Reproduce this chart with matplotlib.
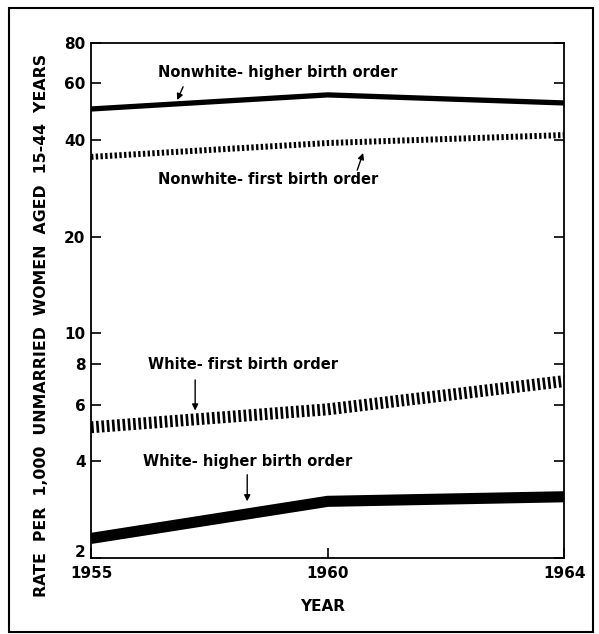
import numpy as np
import matplotlib.pyplot as plt
from matplotlib.patches import Rectangle
from matplotlib.ticker import NullLocator
from matplotlib.transforms import ScaledTranslation

# Data (rates per 1,000 unmarried women aged 15-44)
years = ['1955', '1960', '1964']
nonwhite_higher = [49.9, 55.2, 52.1]
nonwhite_first = [35.4, 39.1, 41.4]
white_first = [5.1, 5.8, 7.1]
white_higher = [2.3, 3.0, 3.1]
y_ticks = [2, 4, 6, 8, 10, 20, 40, 60, 80]

plt.rcParams['lines.scale_dashes'] = False
plt.rcParams['font.family'] = 'DejaVu Sans'

fig = plt.figure(figsize=(5.99, 6.34), dpi=100)
ax = fig.add_axes([0.152, 0.12, 0.79, 0.812])
x = np.arange(len(years))

# Lines
ax.plot(x, nonwhite_higher, color='black', lw=3.8, solid_joinstyle='round',
        solid_capstyle='butt')
ax.plot(x, nonwhite_first, color='black', lw=4.3, dashes=(1.7, 1.7),
        dash_capstyle='butt')
ax.plot(x, white_first, color='black', lw=8.6, dashes=(1.9, 1.9),
        dash_capstyle='butt')
ax.plot(x, white_higher, color='black', lw=8, solid_capstyle='butt')

# Axes, log scale
ax.set_yscale('log')
ax.set_ylim(2, 80)
ax.set_xlim(0, 2)
ax.set_yticks(y_ticks)
ax.set_yticklabels([str(v) for v in y_ticks])
ax.yaxis.set_minor_locator(NullLocator())
ax.set_xticks(x)
ax.set_xticklabels(years)
for s in ax.spines.values():
    s.set_linewidth(1.3)
ax.tick_params(axis='y', direction='in', length=7, width=1.2, right=True,
               labelsize=11, pad=4)
ax.tick_params(axis='x', direction='in', length=7, width=1.2,
               labelsize=11, pad=6)
for lab in ax.get_xticklabels() + ax.get_yticklabels():
    lab.set_fontweight('bold')

# the "2" sits a little above the axis bottom, clear of "1955"
lab2 = ax.get_yticklabels()[0]
lab2.set_transform(lab2.get_transform() +
                   ScaledTranslation(0, 5 / 72, fig.dpi_scale_trans))

# Labels with arrows
arrow = dict(arrowstyle='-|>', color='black', lw=1, mutation_scale=9,
             shrinkA=0, shrinkB=0)
txt = dict(fontsize=10.5, fontweight='bold', va='center', ha='left')
ax.text(0.283, 65.0, 'Nonwhite- higher birth order', **txt)
ax.annotate('', xy=(0.364, 53.2), xytext=(0.389, 58.5), arrowprops=arrow)

ax.text(0.283, 30.0, 'Nonwhite- first birth order', **txt)
ax.annotate('', xy=(1.15, 36.4), xytext=(1.125, 32.2), arrowprops=arrow)

ax.text(0.241, 7.97, 'White- first birth order', **txt)
ax.annotate('', xy=(0.44, 5.75), xytext=(0.44, 7.16), arrowprops=arrow)

ax.text(0.22, 3.98, 'White- higher birth order', **txt)
ax.annotate('', xy=(0.66, 3.0), xytext=(0.66, 3.63), arrowprops=arrow)

# Axis titles
fig.text(0.070, 0.486, 'RATE  PER  1,000  UNMARRIED  WOMEN  AGED  15-44  YEARS',
         rotation=90, ha='center', va='center', fontsize=11.3, fontweight='bold')
fig.text(0.539, 0.0426, 'YEAR', ha='center', va='center', fontsize=11,
         fontweight='bold')

# Frame round the whole figure
fig.patches.append(Rectangle((0.015, 0.003), 0.975, 0.984,
                             transform=fig.transFigure, fill=False,
                             lw=1.5, ec='black'))

fig.savefig('out.png', dpi=100)
